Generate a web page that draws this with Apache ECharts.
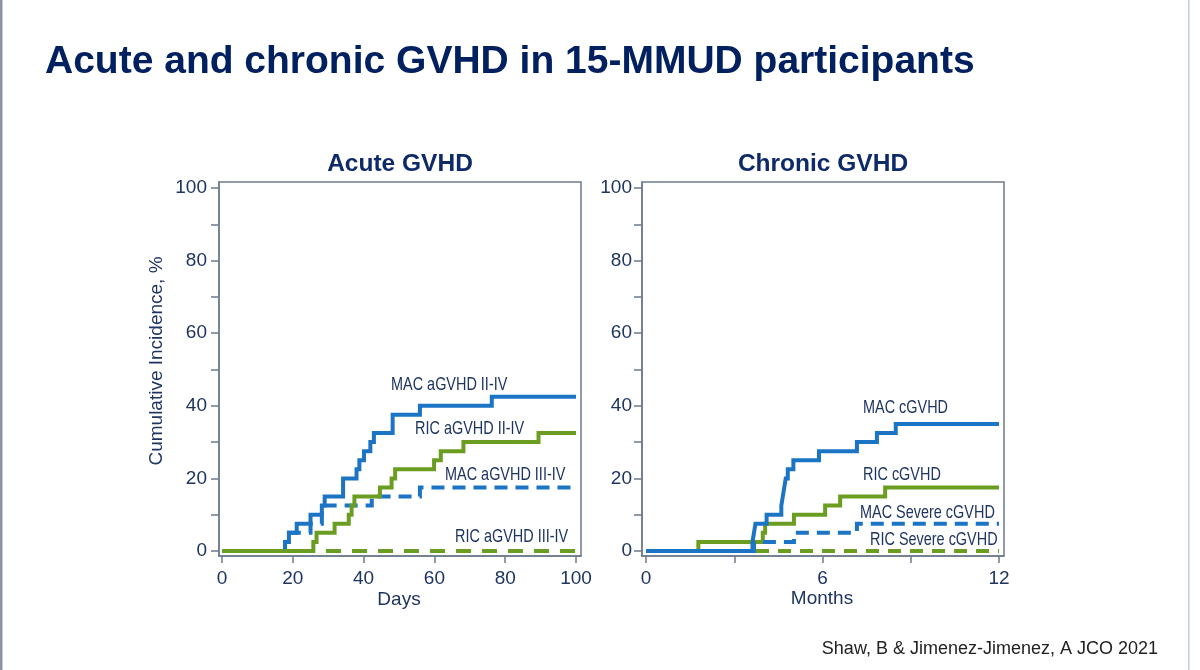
<!DOCTYPE html>
<html>
<head>
<meta charset="utf-8">
<script src="https://cdn.jsdelivr.net/npm/echarts@6/dist/echarts.min.js"></script>
<style>
html,body{margin:0;padding:0;background:#fff;}
#main{width:1200px;height:670px;}
</style>
</head>
<body>
<div id="main"></div>
<script>
// ---- Acute GVHD (days) ----
const acuteXTicks = [0, 20, 40, 60, 80, 100];
const acuteXMinor = [0, 20, 40, 60, 80, 100];
const macAcute24Days = [0, 17.8, 18.9, 21.1, 25.0, 28.2, 29.0, 34.2, 38.0, 38.8, 40.1, 41.9, 42.9, 48.2, 55.9, 76.2, 100];
const macAcute24Pct  = [0, 2.5, 5, 7.5, 10, 12.5, 15, 20, 22.5, 25, 27.5, 30, 32.5, 37.5, 40, 42.5, 42.5];
const macAcute34Days = [0, 17.8, 18.9, 25.0, 28.2, 42.3, 55.9, 100];
const macAcute34Pct  = [0, 2.5, 5, 7.5, 12.5, 15, 17.5, 17.5];
const ricAcute24Days = [0, 25.8, 26.7, 31.8, 35.8, 36.6, 37.4, 44.6, 47.9, 48.9, 59.9, 61.8, 68.2, 89.4, 100];
const ricAcute24Pct  = [0, 2.5, 5, 7.5, 10, 12.5, 15, 17.5, 20, 22.5, 25, 27.5, 30, 32.5, 32.5];
const ricAcute34Days = [0, 100];
const ricAcute34Pct  = [0, 0];

// ---- Chronic GVHD (months) ----
const chronicXTicks = [0, 6, 12];
const chronicXMinor = [0, 3, 6, 9, 12];
const macChronicMonths = [0, 3.62, 3.67, 3.72, 4.1, 4.6, 4.65, 4.7, 4.75, 4.82, 5.01, 5.88, 7.17, 7.85, 8.49, 12];
const macChronicPct    = [0, 2.5, 5, 7.5, 10, 12.5, 15, 17.5, 20, 22.5, 25, 27.5, 30, 32.5, 35, 35];
const macSevereMonths  = [0, 3.67, 5.03, 7.17, 12];
const macSeverePct     = [0, 2.5, 5, 7.5, 7.5];
const ricChronicMonths = [0, 1.78, 3.97, 4.05, 5.03, 6.09, 6.6, 8.13, 12];
const ricChronicPct    = [0, 2.5, 5, 7.5, 10, 12.5, 15, 17.5, 17.5];
const ricSevereMonths  = [0, 12];
const ricSeverePct     = [0, 0];

const yTicks = [0, 20, 40, 60, 80, 100];
const yMinor = [0, 10, 20, 30, 40, 50, 60, 70, 80, 90, 100];

const BLUE = '#1c74c4';
const GREEN = '#6b9d22';
const NAVY = '#0e2a68';
const TXT = '#1f3561';
const AXIS = '#6e7b8a';
const FONT = "'Liberation Sans', Arial, sans-serif";

function zip(xs, ys) { return xs.map((x, i) => [x, ys[i]]); }

function stepSeries(name, xs, ys, color, idx, dash, z) {
  return {
    name: name, type: 'line', step: 'end',
    xAxisIndex: idx, yAxisIndex: idx,
    data: zip(xs, ys), showSymbol: false, symbol: 'none',
    lineStyle: { color: color, width: 4, type: dash || 'solid', cap: 'butt', join: 'miter' },
    z: z || 2, silent: true
  };
}

function xAxisCfg(idx, min, max, labels, ticks) {
  return {
    type: 'value', gridIndex: idx, min: min, max: max,
    axisLine: { show: true, onZero: false, lineStyle: { color: AXIS, width: 1.5 } },
    axisTick: { show: true, length: 7, customValues: ticks, lineStyle: { color: AXIS, width: 1.5 } },
    axisLabel: { customValues: labels, margin: 13, fontSize: 19, color: TXT, fontFamily: FONT },
    splitLine: { show: false }
  };
}
function yAxisCfg(idx, margin) {
  return {
    type: 'value', gridIndex: idx, min: -1.38, max: 101.65,
    axisLine: { show: true, onZero: false, lineStyle: { color: AXIS, width: 1.5 } },
    axisTick: { show: true, length: 8, customValues: yMinor, lineStyle: { color: AXIS, width: 1.5 } },
    axisLabel: { customValues: yTicks, margin: margin, fontSize: 19, color: TXT, fontFamily: FONT },
    splitLine: { show: false }
  };
}

function label(text, x, y) {
  return { type: 'text', x: x, y: y, scaleX: 0.76, silent: true,
    style: { text: text, fill: TXT, font: '19px ' + FONT, textAlign: 'left', textVerticalAlign: 'middle' } };
}

const chart = echarts.init(document.getElementById('main'), null, { renderer: 'canvas' });
chart.setOption({
  animation: false,
  backgroundColor: '#ffffff',
  grid: [
    { left: 219, top: 182, width: 362, height: 374, show: true, borderColor: AXIS, borderWidth: 1.5, backgroundColor: 'transparent' },
    { left: 642, top: 182, width: 362, height: 374, show: true, borderColor: AXIS, borderWidth: 1.5, backgroundColor: 'transparent' }
  ],
  xAxis: [
    xAxisCfg(0, -0.85, 101.4, acuteXTicks, acuteXMinor),
    xAxisCfg(1, -0.136, 12.17, chronicXTicks, chronicXMinor)
  ],
  yAxis: [ yAxisCfg(0, 12), yAxisCfg(1, 10) ],
  series: [
    stepSeries('MAC aGVHD II-IV', macAcute24Days, macAcute24Pct, BLUE, 0, 'solid', 2),
    stepSeries('MAC aGVHD III-IV', macAcute34Days, macAcute34Pct, BLUE, 0, [13, 8], 3),
    stepSeries('RIC aGVHD II-IV', ricAcute24Days, ricAcute24Pct, GREEN, 0, 'solid', 4),
    stepSeries('RIC aGVHD III-IV', ricAcute34Days, ricAcute34Pct, GREEN, 0, [15, 11], 5),
    stepSeries('RIC Severe cGVHD', ricSevereMonths, ricSeverePct, GREEN, 1, [13, 9], 2),
    stepSeries('RIC cGVHD', ricChronicMonths, ricChronicPct, GREEN, 1, 'solid', 3),
    stepSeries('MAC Severe cGVHD', macSevereMonths, macSeverePct, BLUE, 1, [13, 8], 4),
    stepSeries('MAC cGVHD', macChronicMonths, macChronicPct, BLUE, 1, 'solid', 5)
  ],
  graphic: [
    { type: 'rect', shape: { x: 0, y: 0, width: 2.5, height: 670 }, style: { fill: '#8a969f' }, silent: true },
    { type: 'rect', shape: { x: 1188, y: 0, width: 1.5, height: 670 }, style: { fill: '#c3ced8' }, silent: true },
    { type: 'text', x: 45, y: 62, silent: true,
      style: { text: 'Acute and chronic GVHD in 15-MMUD participants', fill: '#002060', font: 'bold 39px ' + FONT, textAlign: 'left', textVerticalAlign: 'middle' } },
    { type: 'text', x: 400, y: 164, silent: true,
      style: { text: 'Acute GVHD', fill: NAVY, font: 'bold 24.5px ' + FONT, textAlign: 'center', textVerticalAlign: 'middle' } },
    { type: 'text', x: 823, y: 164, silent: true,
      style: { text: 'Chronic GVHD', fill: NAVY, font: 'bold 24.5px ' + FONT, textAlign: 'center', textVerticalAlign: 'middle' } },
    { type: 'text', x: 399, y: 600, silent: true,
      style: { text: 'Days', fill: TXT, font: '19px ' + FONT, textAlign: 'center', textVerticalAlign: 'middle' } },
    { type: 'text', x: 822, y: 599, silent: true,
      style: { text: 'Months', fill: TXT, font: '19px ' + FONT, textAlign: 'center', textVerticalAlign: 'middle' } },
    { type: 'text', x: 157, y: 361, rotation: Math.PI / 2, silent: true,
      style: { text: 'Cumulative Incidence, %', fill: TXT, font: '19px ' + FONT, textAlign: 'center', textVerticalAlign: 'middle' } },
    { type: 'text', x: 1158, y: 649, silent: true,
      style: { text: 'Shaw, B & Jimenez-Jimenez, A JCO 2021', fill: '#222222', font: '18px ' + FONT, textAlign: 'right', textVerticalAlign: 'middle' } },
    label('MAC aGVHD II-IV', 391, 384.5),
    label('RIC aGVHD II-IV', 415, 428.5),
    label('MAC aGVHD III-IV', 445, 474.5),
    label('RIC aGVHD III-IV', 455, 536.5),
    label('MAC cGVHD', 863, 407.5),
    label('RIC cGVHD', 863, 475),
    label('MAC Severe cGVHD', 860, 512.5),
    label('RIC Severe cGVHD', 870, 539.5)
  ]
});
</script>
</body>
</html>
